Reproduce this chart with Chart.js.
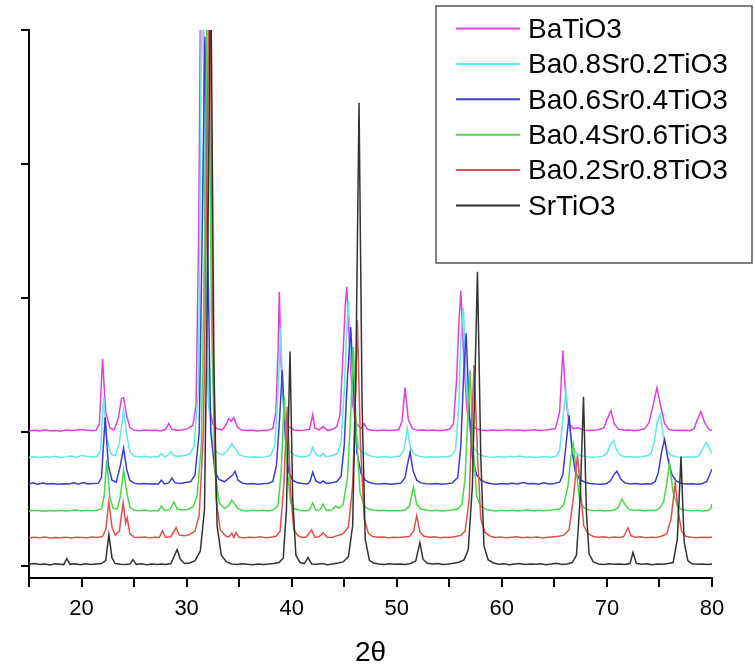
<!DOCTYPE html>
<html>
<head>
<meta charset="utf-8">
<title>XRD BaSrTiO3</title>
<script src="https://cdn.jsdelivr.net/npm/chart.js@4.4.1/dist/chart.umd.min.js"></script>
<style>
    html, body { margin: 0; padding: 0; background: #fff; }
    #xrdChart { display: block; }
</style>
</head>
<body>
<canvas id="xrdChart" width="755" height="667"></canvas>
<script>
// --- Data: [2θ, intensity] pairs, each trace offset upward ---
const sampleNames = ['BaTiO3', 'Ba0.8Sr0.2TiO3', 'Ba0.6Sr0.4TiO3', 'Ba0.4Sr0.6TiO3', 'Ba0.2Sr0.8TiO3', 'SrTiO3'];
const traceOffsets = [1000, 800, 600, 400, 200, 0];
const yTickValues = [0, 1000, 2000, 3000, 4000];

const baTiO3 = [[15,8],[15.5,12],[16,7],[16.5,14],[17,9],[17.5,11],[18,6],[18.5,15],[19,10],[19.5,13],[20,18],[20.5,12],[21,9],[21.4,14],[21.7,60],[22.0,547],[22.3,150],[22.7,30],[23.1,15],[23.5,100],[23.8,250],[24.0,256],[24.3,120],[24.6,35],[25,12],[25.5,9],[26,14],[26.5,10],[27,13],[27.5,8],[28.0,20],[28.3,62],[28.6,20],[29.1,12],[29.6,15],[30.1,25],[30.6,50],[30.9,200],[31.15,1500],[31.45,4600],[31.75,1200],[32.1,200],[32.5,60],[32.9,25],[33.4,15],[33.8,60],[34.0,100],[34.25,80],[34.5,107],[34.8,40],[35.2,14],[35.7,10],[36.2,13],[36.7,8],[37.2,12],[37.7,10],[38.2,25],[38.5,150],[38.7,600],[38.82,1047],[39.0,500],[39.3,120],[39.7,40],[40.2,15],[40.7,10],[41.2,12],[41.7,20],[42.0,129],[42.2,30],[42.6,15],[43.0,40],[43.4,12],[43.9,20],[44.3,40],[44.6,130],[44.9,600],[45.1,950],[45.24,1084],[45.5,650],[45.8,200],[46.2,60],[46.6,25],[46.9,62],[47.2,20],[47.7,12],[48.2,9],[48.7,14],[49.2,10],[49.7,13],[50.2,18],[50.5,80],[50.79,331],[51.1,90],[51.5,25],[52.0,12],[52.5,15],[53,10],[53.5,14],[54,9],[54.5,13],[55.0,20],[55.4,60],[55.7,400],[55.9,800],[56.1,1054],[56.4,500],[56.7,150],[57.1,50],[57.6,22],[58.1,12],[58.6,9],[59.1,14],[59.6,10],[60.1,13],[60.6,17],[61.1,11],[61.6,14],[62.1,9],[62.6,12],[63.1,16],[63.6,10],[64.1,13],[64.6,18],[65.1,25],[65.5,150],[65.8,607],[66.1,250],[66.4,60],[66.8,25],[67.3,32],[67.7,14],[68.2,10],[68.7,13],[69.2,16],[69.7,30],[70.0,90],[70.38,159],[70.7,60],[71.1,20],[71.6,12],[72.1,15],[72.6,9],[73.1,14],[73.6,25],[74.0,70],[74.4,200],[74.76,331],[75.1,200],[75.5,60],[75.9,18],[76.4,12],[76.9,10],[77.4,13],[77.9,10],[78.3,25],[78.6,90],[78.95,152],[79.3,70],[79.7,20],[80,10]];

const ba08Sr02 = [[15,10],[15.5,14],[16,9],[16.5,16],[17,12],[17.5,18],[18,10],[18.5,14],[19,20],[19.5,12],[20,25],[20.5,18],[21,14],[21.5,20],[21.8,60],[22.1,458],[22.4,150],[22.8,35],[23.2,22],[23.6,120],[24.0,360],[24.3,180],[24.6,50],[25,20],[25.5,14],[26,18],[26.5,12],[27,16],[27.3,11],[27.6,40],[27.9,14],[28.2,25],[28.5,55],[28.8,22],[29.3,18],[29.8,25],[30.3,35],[30.7,90],[31.1,500],[31.3,2000],[31.5,4600],[31.8,1500],[32.1,400],[32.5,100],[32.9,45],[33.4,28],[33.9,60],[34.3,115],[34.7,70],[35.0,30],[35.5,16],[36,12],[36.5,15],[37,10],[37.5,14],[38.0,25],[38.4,100],[38.7,500],[38.95,980],[39.2,400],[39.5,120],[39.9,45],[40.4,22],[40.9,14],[41.4,16],[41.75,30],[42.0,85],[42.3,30],[42.7,18],[43.0,40],[43.3,15],[43.8,22],[44.3,35],[44.7,120],[45.0,500],[45.2,900],[45.39,1181],[45.7,700],[46.0,250],[46.4,80],[46.8,35],[47.0,47],[47.3,25],[47.8,15],[48.3,11],[48.8,16],[49.3,12],[49.8,15],[50.3,20],[50.7,70],[51.0,226],[51.3,80],[51.7,30],[52.2,16],[52.7,12],[53.2,15],[53.7,11],[54.2,16],[54.7,14],[55.2,22],[55.6,70],[55.9,400],[56.1,900],[56.34,1129],[56.6,600],[56.9,250],[57.3,90],[57.7,40],[58.2,20],[58.7,14],[59.2,10],[59.7,16],[60.2,12],[60.7,18],[61.2,14],[61.7,20],[62.2,12],[62.7,15],[63.2,10],[63.7,14],[64.2,16],[64.7,12],[65.2,20],[65.5,60],[65.8,300],[66.1,510],[66.4,250],[66.7,90],[67.1,40],[67.6,22],[68.1,15],[68.6,11],[69.1,14],[69.6,18],[70.0,40],[70.3,100],[70.63,137],[70.9,70],[71.3,25],[71.8,14],[72.3,17],[72.8,11],[73.3,15],[73.8,20],[74.2,40],[74.5,120],[74.8,280],[75.08,331],[75.4,150],[75.8,50],[76.2,22],[76.7,14],[77.2,11],[77.7,15],[78.2,12],[78.7,18],[79.1,70],[79.46,122],[79.8,70],[80,40]];

const ba06Sr04 = [[15,12],[15.4,20],[15.8,10],[16.3,18],[16.8,11],[17.3,15],[17.8,9],[18.3,14],[18.8,12],[19.3,20],[19.7,10],[20.2,22],[20.6,12],[21.1,15],[21.6,18],[21.9,60],[22.25,510],[22.55,150],[22.9,40],[23.3,25],[23.7,150],[24.0,279],[24.3,120],[24.6,40],[25,18],[25.5,12],[26,16],[26.5,11],[27,14],[27.3,10],[27.6,40],[27.9,12],[28.3,20],[28.6,55],[28.9,20],[29.4,15],[29.9,22],[30.4,30],[30.8,80],[31.2,400],[31.5,2000],[31.74,3350],[32.0,1800],[32.3,400],[32.7,100],[33.1,45],[33.6,28],[34.1,60],[34.4,80],[34.6,107],[34.9,40],[35.3,18],[35.8,12],[36.3,15],[36.8,10],[37.3,14],[37.8,17],[38.2,30],[38.55,150],[38.85,500],[39.1,860],[39.4,350],[39.7,100],[40.1,40],[40.5,22],[41.0,15],[41.5,12],[41.75,30],[42.0,100],[42.3,35],[42.7,18],[43.0,35],[43.3,16],[43.8,20],[44.3,30],[44.7,70],[45.0,300],[45.3,800],[45.62,1181],[45.9,700],[46.2,250],[46.6,90],[47.0,40],[47.4,22],[47.9,14],[48.4,11],[48.9,15],[49.4,10],[49.9,14],[50.4,18],[50.8,60],[51.0,150],[51.27,249],[51.55,110],[51.9,40],[52.3,20],[52.8,14],[53.3,11],[53.8,15],[54.3,10],[54.8,14],[55.3,20],[55.8,60],[56.1,300],[56.35,800],[56.6,1137],[56.9,550],[57.2,200],[57.6,80],[58.0,40],[58.5,22],[59,14],[59.5,10],[60,15],[60.5,12],[61,18],[61.5,11],[62,22],[62.5,14],[63,16],[63.5,10],[64,20],[64.5,12],[65,15],[65.5,25],[65.8,80],[66.1,300],[66.4,525],[66.7,250],[67.0,100],[67.4,45],[67.9,25],[68.4,16],[68.9,12],[69.4,10],[69.9,14],[70.3,30],[70.65,80],[70.95,107],[71.3,50],[71.7,20],[72.2,12],[72.7,16],[73.2,10],[73.7,14],[74.2,12],[74.6,30],[74.9,100],[75.2,250],[75.49,346],[75.8,200],[76.2,80],[76.6,35],[77.1,16],[77.6,12],[78.1,14],[78.6,10],[79.1,15],[79.5,30],[80,122]];

const ba04Sr06 = [[15,10],[15.5,15],[16,12],[16.5,9],[17,14],[17.5,11],[18,16],[18.5,10],[19,13],[19.5,17],[20,11],[20.5,15],[21,12],[21.5,16],[21.9,25],[22.15,120],[22.4,390],[22.7,110],[23.0,30],[23.4,25],[23.7,120],[24.0,316],[24.3,150],[24.6,40],[25,15],[25.5,12],[26,17],[26.5,10],[27,14],[27.3,11],[27.6,47],[27.9,14],[28.4,20],[28.8,77],[29.1,25],[29.6,18],[30.1,22],[30.6,40],[31.0,120],[31.4,500],[31.75,2200],[32.03,4600],[32.35,1500],[32.7,300],[33.1,70],[33.6,30],[34.0,50],[34.3,92],[34.6,60],[34.9,25],[35.3,14],[35.8,10],[36.3,16],[36.8,12],[37.3,15],[37.8,11],[38.3,20],[38.7,50],[39.0,300],[39.3,860],[39.6,300],[39.9,70],[40.3,25],[40.8,14],[41.3,12],[41.7,18],[42.0,70],[42.3,16],[42.7,20],[43.0,62],[43.3,14],[43.8,18],[44.2,47],[44.5,30],[44.9,60],[45.3,250],[45.6,700],[45.87,1234],[46.15,600],[46.5,150],[46.9,45],[47.3,25],[47.8,16],[48.3,12],[48.8,15],[49.3,10],[49.8,14],[50.3,12],[50.8,18],[51.2,45],[51.58,189],[51.9,60],[52.3,25],[52.8,16],[53.3,12],[53.8,15],[54.3,10],[54.8,14],[55.3,18],[55.8,25],[56.2,60],[56.5,250],[56.75,700],[56.98,1062],[57.3,450],[57.6,120],[58.0,45],[58.5,22],[59,14],[59.5,10],[60,15],[60.5,12],[61,16],[61.5,10],[62,14],[62.5,17],[63,11],[63.5,15],[64,12],[64.5,16],[65,20],[65.5,25],[65.9,60],[66.3,200],[66.55,400],[66.8,510],[67.1,300],[67.4,90],[67.8,35],[68.3,18],[68.8,12],[69.3,16],[69.8,10],[70.3,14],[70.8,20],[71.1,40],[71.43,100],[71.7,60],[72.1,22],[72.6,14],[73.1,17],[73.6,11],[74.1,15],[74.6,13],[75.0,30],[75.4,80],[75.7,220],[75.96,368],[76.3,150],[76.7,50],[77.1,22],[77.6,15],[78.1,12],[78.6,16],[79.1,10],[79.6,14],[79.9,30],[80,62]];

const ba02Sr08 = [[15,8],[15.5,14],[16,10],[16.5,16],[17,9],[17.5,13],[18,11],[18.5,15],[19,8],[19.5,14],[20,12],[20.5,10],[21,16],[21.5,12],[22,20],[22.3,70],[22.6,279],[22.9,90],[23.2,30],[23.6,60],[23.96,271],[24.2,120],[24.35,159],[24.6,40],[25,15],[25.5,12],[26,16],[26.5,10],[27,14],[27.4,12],[27.7,62],[28,14],[28.5,18],[29.0,85],[29.3,30],[29.8,25],[30.3,35],[30.8,60],[31.2,180],[31.6,800],[31.9,2500],[32.17,4600],[32.5,1600],[32.8,300],[33.2,70],[33.7,25],[34.0,15],[34.3,45],[34.5,12],[34.7,50],[35.0,14],[35.5,10],[36,15],[36.5,12],[37,17],[37.5,10],[38,14],[38.5,22],[38.9,60],[39.25,400],[39.58,987],[39.9,350],[40.2,70],[40.6,25],[41.0,12],[41.4,16],[41.9,70],[42.2,14],[42.6,18],[43.0,47],[43.4,12],[43.9,15],[44.4,28],[44.9,40],[45.4,90],[45.8,400],[46.05,1000],[46.25,1636],[46.55,700],[46.9,150],[47.3,45],[47.7,20],[48.2,14],[48.7,16],[49.2,10],[49.7,14],[50.2,12],[50.7,16],[51.2,20],[51.6,60],[51.9,174],[52.2,55],[52.6,22],[53.1,14],[53.6,18],[54.1,11],[54.6,15],[55.1,12],[55.6,20],[56.1,28],[56.5,60],[56.9,300],[57.1,800],[57.36,1300],[57.7,600],[58.0,150],[58.4,50],[58.9,22],[59.4,12],[59.9,16],[60.4,10],[60.9,14],[61.4,17],[61.9,11],[62.4,15],[62.9,12],[63.4,16],[63.9,9],[64.4,14],[64.9,18],[65.4,22],[65.9,30],[66.4,70],[66.8,300],[67.2,629],[67.5,350],[67.8,100],[68.2,40],[68.7,20],[69.2,14],[69.7,18],[70.2,10],[70.7,16],[71.2,12],[71.6,20],[72.0,85],[72.3,25],[72.7,14],[73.2,17],[73.7,11],[74.2,15],[74.7,13],[75.2,22],[75.7,40],[76.1,150],[76.5,420],[76.8,200],[77.1,60],[77.5,22],[78,14],[78.5,10],[79,15],[79.5,12],[80,14]];

const srTiO3 = [[15,12],[15.5,18],[16,10],[16.5,15],[17,8],[17.5,16],[18,12],[18.3,10],[18.6,55],[18.9,12],[19.4,16],[19.9,9],[20.4,17],[20.9,10],[21.4,14],[21.9,18],[22.3,40],[22.6,234],[22.9,60],[23.2,18],[23.7,12],[24.2,10],[24.6,14],[24.9,47],[25.2,12],[25.7,16],[26.2,9],[26.7,14],[27.2,11],[27.6,15],[28.0,10],[28.5,18],[28.8,70],[29.1,122],[29.4,50],[29.8,18],[30.3,22],[30.8,40],[31.3,110],[31.7,420],[32.0,2200],[32.29,4600],[32.6,1500],[32.9,300],[33.3,80],[33.8,30],[34.3,14],[34.8,10],[35.3,16],[35.8,12],[36.3,9],[36.8,15],[37.3,11],[37.8,14],[38.3,18],[38.8,25],[39.2,60],[39.5,420],[39.84,1600],[40.1,500],[40.4,80],[40.8,25],[41.2,18],[41.55,62],[41.9,15],[42.4,12],[42.9,18],[43.4,9],[43.9,15],[44.4,22],[44.9,30],[45.4,70],[45.8,300],[46.1,1400],[46.41,3457],[46.7,1200],[47.0,200],[47.4,40],[47.8,22],[48.3,14],[48.8,10],[49.3,16],[49.8,12],[50.3,15],[50.8,10],[51.3,18],[51.8,35],[52.2,174],[52.5,50],[52.9,20],[53.4,14],[53.9,18],[54.4,11],[54.9,15],[55.4,20],[55.9,28],[56.4,45],[56.8,120],[57.2,600],[57.68,2196],[58.0,800],[58.3,150],[58.7,45],[59.2,22],[59.7,12],[60.2,16],[60.7,9],[61.2,14],[61.7,18],[62.2,10],[62.7,15],[63.2,12],[63.7,16],[64.2,9],[64.7,14],[65.2,20],[65.7,11],[66.2,15],[66.7,25],[67.1,80],[67.45,500],[67.77,1263],[68.05,400],[68.3,90],[68.7,30],[69.2,14],[69.7,10],[70.2,16],[70.7,12],[71.2,15],[71.7,11],[72.2,18],[72.48,100],[72.8,20],[73.3,12],[73.8,16],[74.3,9],[74.8,15],[75.3,12],[75.8,18],[76.3,25],[76.7,200],[77.05,816],[77.35,180],[77.7,40],[78.1,16],[78.6,12],[79.1,15],[79.6,10],[80,14]];

const traces = [baTiO3, ba08Sr02, ba06Sr04, ba04Sr06, ba02Sr08, srTiO3];
const traceColors = ['#e040e0', '#5ee8e8', '#3c3cd2', '#48d848', '#e05050', '#333333'];

document.addEventListener('DOMContentLoaded', () => {
    const font = '"Liberation Sans", Arial, sans-serif';

    // --- Boxed legend in the top right corner ---
    const boxLegend = {
        id: 'boxLegend',
        afterDraw: (chart) => {
            const ctx = chart.ctx;
            ctx.save();
            ctx.strokeStyle = '#555';
            ctx.lineWidth = 1.5;
            ctx.strokeRect(436, 6, 316, 257);
            ctx.font = `28px ${font}`;
            ctx.textBaseline = 'middle';
            ctx.fillStyle = '#000';
            chart.data.datasets.forEach((ds, i) => {
                const y = 28.5 + i * 35.4;
                ctx.strokeStyle = ds.borderColor;
                ctx.lineWidth = 2;
                ctx.beginPath();
                ctx.moveTo(456, y);
                ctx.lineTo(520, y);
                ctx.stroke();
                ctx.fillText(ds.label, 528, y + 1.5);
            });
            ctx.restore();
        }
    };

    const datasets = traces.map((trace, i) => ({
        label: sampleNames[i],
        data: trace.map(([x, y]) => ({ x, y: y + traceOffsets[i] })),
        borderColor: traceColors[i],
        borderWidth: 1.5,
        pointRadius: 0,
        tension: 0,
        order: traces.length - i
    }));

    const axisGrid = { drawOnChartArea: false, drawTicks: true, color: '#000', lineWidth: 2 };

    new Chart(document.getElementById('xrdChart'), {
        type: 'line',
        data: { datasets },
        plugins: [boxLegend],
        options: {
            responsive: false,
            animation: false,
            layout: { padding: { top: 30, right: 43, left: 0, bottom: 0 } },
            plugins: { legend: { display: false }, tooltip: { enabled: false } },
            scales: {
                x: {
                    type: 'linear',
                    min: 15,
                    max: 80,
                    afterFit: (scale) => { scale.height = 89; },
                    border: { display: true, color: '#000', width: 2 },
                    grid: { ...axisGrid, tickLength: 9 },
                    ticks: {
                        stepSize: 5,
                        autoSkip: false,
                        maxRotation: 0,
                        padding: 9,
                        color: '#000',
                        font: { family: font, size: 22 },
                        callback: (v) => (v % 10 === 0 ? v : '')
                    },
                    title: {
                        display: true,
                        text: '2θ',
                        color: '#000',
                        font: { family: font, size: 28, lineHeight: 1.0 },
                        padding: { top: 0, bottom: 0 }
                    }
                },
                y: {
                    type: 'linear',
                    min: -90,
                    max: 4000,
                    afterFit: (scale) => { scale.width = 29; },
                    afterBuildTicks: (scale) => {
                        scale.ticks = yTickValues.map(value => ({ value }));
                    },
                    border: { display: true, color: '#000', width: 2 },
                    grid: { ...axisGrid, tickLength: 8 },
                    ticks: { display: false }
                }
            }
        }
    });
});
</script>
</body>
</html>
